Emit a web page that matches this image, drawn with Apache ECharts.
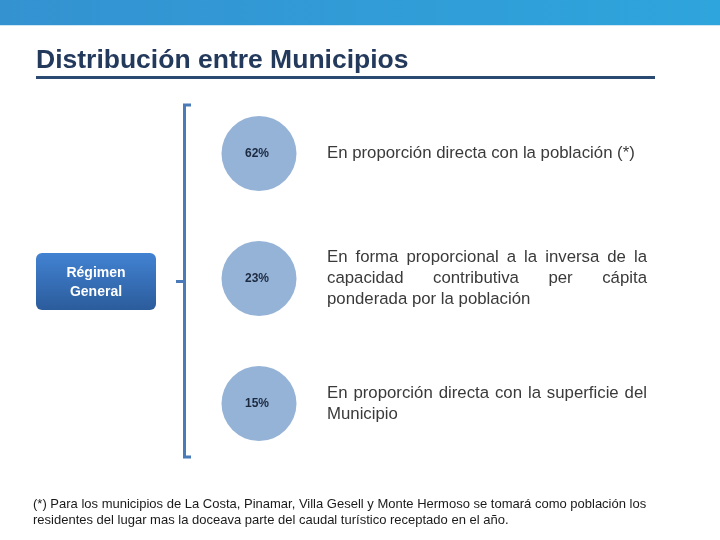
<!DOCTYPE html>
<html><head><meta charset="utf-8">
<script src="https://cdn.jsdelivr.net/npm/echarts@6/dist/echarts.min.js"></script>
<style>html,body{margin:0;padding:0;background:#fff}#c{width:720px;height:540px}</style>
</head><body><div id="c"></div>
<script>
// ---- data ----
const titleText = 'Distribución entre Municipios';
const groupName = 'Régimen General';
const groupLines = ['Régimen', 'General'];
const criteriaKeys = ['población', 'capacidad contributiva', 'superficie'];
const shares = [62, 23, 15];
const criteriaLines = [
  ['En proporción directa con la población (*)'],
  ['En forma proporcional a la inversa de la', 'capacidad contributiva per cápita', 'ponderada por la población'],
  ['En proporción directa con la superficie del', 'Municipio']
];
const criteriaJustify = [[false], [true, true, false], [true, false]];
const footnoteLines = [
  '(*) Para los municipios de La Costa, Pinamar, Villa Gesell y Monte Hermoso se tomará como población los',
  'residentes del lugar mas la doceava parte del caudal turístico receptado en el año.'
];

// ---- chart ----
const chart = echarts.init(document.getElementById('c'), null, {renderer: 'canvas'});
const FONT_FAMILY = '"Liberation Sans", Arial, sans-serif';
chart.setOption({
  animation: false,
  backgroundColor: '#ffffff',
  title: {
    text: titleText, left: 31, top: 42,
    textStyle: {fontFamily: FONT_FAMILY, fontSize: 26.5, fontWeight: 'bold', color: '#243a5c'}
  },
  grid: {left: 222, width: 74, top: 91, height: 375},
  xAxis: {type: 'category', data: [groupName], show: false},
  yAxis: {type: 'category', data: criteriaKeys, inverse: true, show: false},
  series: [{
    type: 'scatter',
    symbol: 'circle',
    symbolSize: 75,
    itemStyle: {color: '#95b3d7', opacity: 1},
    data: shares.map((v, i) => [groupName, criteriaKeys[i], v]),
    label: {
      show: true, position: 'inside', offset: [-2, 0],
      formatter: p => p.value[2] + '%',
      fontFamily: FONT_FAMILY, fontSize: 12, fontWeight: 'bold', color: '#1c2a40'
    }
  }]
});

// measure helper
const mctx = document.createElement('canvas').getContext('2d');
function textWidth(t, font) { mctx.font = font; return mctx.measureText(t).width; }

const graphics = [];
// top band
graphics.push({
  type: 'rect', shape: {x: 0, y: 0, width: 720, height: 25},
  style: {fill: new echarts.graphic.LinearGradient(0, 0, 1, 0, [
    {offset: 0, color: '#3492d1'}, {offset: 1, color: '#2ea5dc'}])}, silent: true
});
graphics.push({type: 'rect', shape: {x: 0, y: 25, width: 720, height: 1}, style: {fill: '#cfe6f4'}, silent: true});
// title underline
graphics.push({type: 'rect', shape: {x: 36, y: 76, width: 619, height: 3}, style: {fill: '#2a4a72'}, silent: true});

// circle positions from the scales
const centers = criteriaKeys.map(k => chart.convertToPixel({seriesIndex: 0}, [groupName, k]));
const cx = centers[0][0];

// group box
const boxX = 36, boxW = 120, boxH = 57;
const midY = centers[1][1] + 3;
graphics.push({
  type: 'rect', shape: {x: boxX, y: midY - boxH / 2, width: boxW, height: boxH, r: 6},
  style: {fill: new echarts.graphic.LinearGradient(0, 0, 0, 1, [
    {offset: 0, color: '#4282d2'}, {offset: 1, color: '#2b5c9c'}])}, silent: true
});
groupLines.forEach((t, j) => {
  graphics.push({
    type: 'text', silent: true,
    style: {text: t, x: boxX + boxW / 2, y: midY + (j - 0.5) * 19 + 1, textAlign: 'center', textVerticalAlign: 'middle',
      font: 'bold 14px ' + FONT_FAMILY, fill: '#ffffff'}
  });
});

// bracket
const brX = 184.5, brTop = 105, brBot = 457;
graphics.push({type: 'polyline', silent: true, shape: {points: [[191, brTop], [brX, brTop], [brX, brBot], [191, brBot]]},
  style: {stroke: '#4a7ab8', lineWidth: 3, fill: null}});
graphics.push({type: 'line', silent: true, shape: {x1: brX, y1: midY, x2: 176, y2: midY},
  style: {stroke: '#4a7ab8', lineWidth: 3}});

// descriptions
const DFONT = '16.8px ' + FONT_FAMILY;
const textX = cx + 68, textRight = 647, lineH = 21;
criteriaLines.forEach((lines, i) => {
  const cy = centers[i][1];
  lines.forEach((line, j) => {
    const y = cy + (j - (lines.length - 1) / 2) * lineH;
    if (criteriaJustify[i][j]) {
      const words = line.split(' ');
      const wsum = words.reduce((s, w) => s + textWidth(w, DFONT), 0);
      const gap = (textRight - textX - wsum) / (words.length - 1);
      let x = textX;
      words.forEach(w => {
        graphics.push({type: 'text', silent: true,
          style: {text: w, x: x, y: y, textAlign: 'left', textVerticalAlign: 'middle', font: DFONT, fill: '#3a3a3a'}});
        x += textWidth(w, DFONT) + gap;
      });
    } else {
      graphics.push({type: 'text', silent: true,
        style: {text: line, x: textX, y: y, textAlign: 'left', textVerticalAlign: 'middle', font: DFONT, fill: '#3a3a3a'}});
    }
  });
});

// footnote
footnoteLines.forEach((t, j) => {
  graphics.push({type: 'text', silent: true,
    style: {text: t, x: 33, y: 504 + j * 16, textAlign: 'left', textVerticalAlign: 'middle',
      font: '13px ' + FONT_FAMILY, fill: '#1a1a1a'}});
});

chart.setOption({graphic: graphics});
</script></body></html>
